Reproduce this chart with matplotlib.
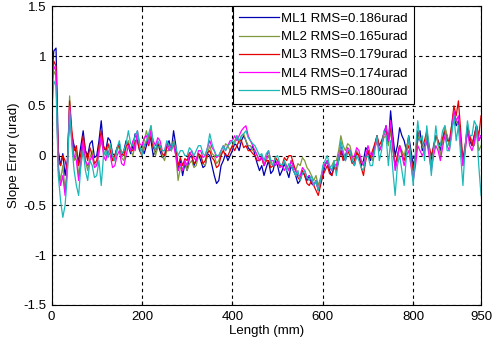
import numpy as np
import matplotlib
matplotlib.use("Agg")
import matplotlib.pyplot as plt

plt.rcParams['font.family'] = ['Liberation Sans', 'DejaVu Sans']
plt.rcParams['axes.unicode_minus'] = False

# sample positions along the mirror, mm (5 mm step)
length_mm = np.arange(0, 951, 5)

ml1 = [0.75, 1.05, 1.08, 0.05, -0.10, 0.02, -0.20, -0.05, 0.45, 0.20,
       0.10, 0.02, -0.05, 0.10, 0.25, 0.05, 0.00, 0.12, 0.15, -0.02,
       0.00, 0.15, 0.35, 0.08, 0.05, 0.18, 0.15, 0.02, 0.00, 0.08,
       0.12, 0.00, 0.05, 0.15, 0.10, 0.02, 0.10, 0.22, 0.15, 0.05,
       0.10, 0.02, 0.10, 0.20, 0.15, 0.00, 0.05, 0.12, 0.05, -0.02,
       0.00, 0.10, 0.15, 0.05, 0.25, 0.10, -0.15, -0.05, -0.20, -0.08,
       -0.15, -0.02, 0.00, -0.10, -0.05, 0.02, -0.05, -0.12, -0.10, 0.02,
       0.00, -0.10, -0.20, -0.28, -0.25, -0.10, -0.05, 0.02, -0.05, 0.00,
       0.05, 0.12, 0.10, 0.05, 0.15, 0.20, 0.15, 0.08, 0.05, 0.10,
       0.00, -0.08, -0.15, -0.10, -0.20, -0.12, -0.05, -0.18, -0.15, -0.05,
       -0.10, -0.20, -0.15, -0.08, -0.15, -0.22, -0.10, -0.15, -0.20, -0.28,
       -0.25, -0.15, -0.20, -0.25, -0.20, -0.28, -0.30, -0.25, -0.35, -0.28,
       -0.20, -0.10, -0.05, -0.15, -0.20, -0.10, -0.15, -0.05, 0.05, 0.00,
       -0.05, 0.05, 0.05, -0.05, -0.10, 0.02, 0.00, -0.10, -0.05, 0.08,
       0.05, -0.05, 0.00, 0.10, 0.20, 0.05, 0.10, 0.22, 0.30, 0.12,
       0.45, 0.20, 0.00, 0.10, 0.28, 0.20, 0.15, 0.05, 0.20, 0.05,
       -0.10, 0.00, 0.15, 0.25, 0.05, 0.10, 0.20, 0.05, -0.05, 0.10,
       0.20, 0.15, 0.05, 0.15, 0.25, 0.20, 0.10, 0.25, 0.40, 0.30,
       0.35, 0.15, -0.05, 0.10, 0.25, 0.15, 0.10, 0.20, 0.30, 0.15,
       0.20]
ml2 = [0.60, 0.85, 0.80, -0.10, -0.25, -0.10, -0.35, -0.15, 0.60, 0.15,
       -0.05, 0.05, -0.20, -0.05, 0.10, -0.05, -0.15, -0.02, 0.05, -0.08,
       -0.10, 0.02, 0.15, 0.05, 0.00, 0.08, 0.10, -0.05, -0.05, 0.05,
       0.10, -0.02, -0.05, 0.08, 0.15, 0.05, 0.00, 0.12, 0.20, 0.08,
       0.05, 0.15, 0.25, 0.15, 0.30, 0.10, 0.00, 0.08, 0.10, 0.00,
       -0.05, 0.05, 0.05, 0.10, 0.15, 0.00, -0.25, -0.12, -0.15, -0.05,
       -0.15, -0.08, -0.05, -0.12, -0.10, 0.00, 0.00, -0.08, -0.10, 0.02,
       0.10, 0.02, 0.00, -0.08, -0.05, 0.02, 0.05, 0.12, 0.10, 0.05,
       0.10, 0.15, 0.20, 0.12, 0.20, 0.22, 0.15, 0.10, 0.10, 0.05,
       0.05, 0.00, -0.05, -0.02, -0.10, -0.05, 0.00, -0.08, -0.10, -0.02,
       -0.05, -0.12, -0.10, -0.05, -0.10, -0.15, -0.05, -0.10, -0.15, -0.08,
       -0.10, -0.02, -0.05, -0.12, -0.15, -0.20, -0.25, -0.20, -0.30, -0.22,
       -0.15, -0.08, -0.05, -0.12, -0.10, -0.05, -0.05, 0.05, 0.20, 0.10,
       0.05, 0.12, 0.10, 0.00, -0.05, 0.05, 0.00, -0.05, -0.10, 0.00,
       0.05, 0.00, -0.05, 0.08, 0.15, 0.05, 0.10, 0.18, 0.20, 0.10,
       0.25, 0.05, -0.10, 0.00, 0.10, 0.05, 0.00, 0.10, 0.15, 0.00,
       -0.20, -0.05, 0.20, 0.15, 0.10, 0.05, 0.20, 0.10, -0.10, 0.05,
       0.20, 0.12, 0.00, 0.15, 0.30, 0.20, 0.10, 0.30, 0.45, 0.35,
       0.30, 0.10, -0.10, 0.05, 0.30, 0.20, 0.15, 0.10, 0.25, 0.05,
       0.10]
ml3 = [0.70, 0.95, 0.90, -0.05, -0.10, 0.00, -0.05, -0.15, 0.55, 0.25,
       0.05, 0.10, -0.10, 0.02, 0.20, 0.05, -0.05, 0.08, 0.00, -0.08,
       -0.05, 0.10, 0.25, 0.10, 0.05, 0.12, 0.05, -0.05, 0.00, 0.08,
       0.10, 0.02, 0.00, 0.10, 0.12, 0.05, 0.05, 0.15, 0.15, 0.05,
       0.00, 0.08, 0.15, 0.10, 0.20, 0.08, 0.05, 0.12, 0.10, 0.02,
       0.00, 0.08, 0.10, 0.05, 0.15, 0.05, -0.10, -0.02, -0.10, -0.03,
       -0.05, 0.03, 0.00, -0.08, -0.05, 0.02, 0.00, -0.08, -0.05, 0.03,
       0.05, -0.02, -0.05, -0.12, -0.10, 0.00, 0.05, 0.00, 0.00, 0.05,
       0.10, 0.05, 0.10, 0.15, 0.15, 0.08, 0.10, 0.05, 0.05, 0.02,
       0.00, -0.05, -0.05, -0.02, -0.10, -0.05, -0.05, -0.12, -0.10, -0.02,
       -0.05, -0.10, -0.10, -0.02, -0.05, 0.00, 0.00, -0.08, -0.15, -0.22,
       -0.25, -0.15, -0.20, -0.28, -0.30, -0.25, -0.30, -0.35, -0.40, -0.30,
       -0.20, -0.15, -0.10, -0.18, -0.20, -0.12, -0.15, -0.05, 0.05, -0.05,
       0.00, 0.05, 0.00, -0.08, -0.05, 0.03, 0.00, -0.12, -0.20, -0.05,
       0.05, -0.02, 0.05, 0.12, 0.20, 0.10, 0.15, 0.22, 0.25, 0.15,
       0.30, 0.10, -0.10, 0.00, 0.10, 0.02, -0.05, 0.05, 0.10, -0.02,
       -0.15, 0.00, 0.25, 0.18, 0.10, 0.15, 0.25, 0.10, 0.00, 0.08,
       0.20, 0.15, 0.10, 0.18, 0.25, 0.15, 0.15, 0.30, 0.50, 0.40,
       0.55, 0.25, -0.05, 0.10, 0.30, 0.20, 0.10, 0.20, 0.30, 0.20,
       0.40]
ml4 = [0.65, 0.90, 0.85, -0.15, -0.30, -0.20, -0.40, -0.10, 0.50, 0.15,
       0.00, -0.05, -0.25, -0.08, 0.15, -0.05, -0.10, -0.05, 0.00, -0.12,
       -0.10, 0.05, 0.20, 0.00, -0.05, 0.05, 0.00, -0.12, -0.10, 0.00,
       0.05, -0.08, -0.10, 0.00, 0.10, 0.05, 0.15, 0.05, 0.25, 0.12,
       0.10, 0.18, 0.20, 0.12, 0.25, 0.15, 0.10, 0.18, 0.15, 0.05,
       0.05, 0.12, 0.05, 0.10, 0.10, 0.00, -0.15, -0.08, -0.15, -0.05,
       -0.10, 0.00, 0.05, -0.02, -0.05, 0.05, 0.05, -0.02, 0.00, 0.08,
       0.15, 0.08, 0.05, -0.02, 0.00, 0.05, 0.10, 0.05, 0.10, 0.15,
       0.15, 0.20, 0.15, 0.20, 0.25, 0.28, 0.30, 0.20, 0.15, 0.10,
       0.05, 0.00, -0.05, 0.00, -0.10, -0.02, 0.05, -0.05, -0.05, -0.10,
       -0.05, -0.12, -0.10, -0.15, -0.10, -0.15, -0.05, -0.12, -0.15, -0.20,
       -0.20, -0.12, -0.15, -0.22, -0.20, -0.25, -0.30, -0.25, -0.35, -0.25,
       -0.15, -0.08, -0.05, -0.12, -0.15, -0.08, -0.10, 0.00, 0.10, 0.02,
       0.00, 0.08, 0.05, -0.02, 0.00, 0.08, 0.05, -0.05, -0.10, 0.00,
       0.10, 0.02, 0.00, 0.08, 0.15, 0.05, 0.10, 0.20, 0.30, 0.15,
       0.35, 0.10, -0.15, -0.05, 0.10, 0.00, -0.10, 0.00, 0.05, -0.10,
       -0.25, -0.10, 0.10, 0.05, 0.00, 0.05, 0.15, 0.00, -0.15, 0.00,
       0.10, 0.05, -0.05, 0.08, 0.20, 0.10, 0.05, 0.25, 0.45, 0.35,
       0.40, 0.15, -0.10, 0.05, 0.25, 0.10, 0.05, 0.12, 0.30, 0.15,
       0.20]
ml5 = [0.38, 0.75, 0.70, -0.20, -0.45, -0.62, -0.50, -0.20, 0.45, 0.10,
       -0.15, -0.30, -0.40, -0.10, 0.05, -0.15, -0.25, -0.05, -0.10, -0.22,
       -0.20, -0.05, -0.30, 0.00, 0.05, -0.02, 0.12, 0.00, -0.05, 0.08,
       0.15, 0.02, 0.05, 0.12, 0.25, 0.12, 0.10, 0.20, 0.25, 0.10,
       0.00, 0.10, 0.15, 0.22, 0.30, 0.12, 0.05, 0.15, 0.10, 0.05,
       0.05, 0.15, 0.10, 0.05, 0.15, 0.08, 0.00, 0.05, 0.05, 0.00,
       0.00, 0.08, 0.05, 0.00, 0.05, 0.10, 0.10, 0.02, 0.00, 0.08,
       0.22, 0.12, 0.05, 0.00, 0.00, 0.05, 0.10, 0.05, 0.10, 0.12,
       0.15, 0.12, 0.20, 0.15, 0.20, 0.22, 0.25, 0.18, 0.15, 0.12,
       0.10, 0.05, 0.00, 0.02, -0.05, 0.02, 0.05, -0.05, -0.10, -0.02,
       0.00, -0.08, -0.10, -0.05, -0.15, -0.08, -0.10, -0.15, -0.20, -0.15,
       -0.25, -0.18, -0.15, -0.22, -0.25, -0.20, -0.30, -0.25, -0.35, -0.25,
       -0.10, -0.05, 0.00, -0.10, -0.15, -0.05, -0.20, -0.05, 0.15, 0.05,
       -0.05, 0.05, 0.05, -0.05, -0.10, 0.00, -0.05, -0.12, -0.15, -0.02,
       0.00, -0.10, -0.10, 0.05, 0.20, -0.05, 0.05, 0.25, 0.20, -0.10,
       0.15, -0.15, -0.40, -0.10, 0.00, -0.15, -0.30, 0.00, 0.20, -0.05,
       -0.30, 0.05, 0.35, 0.15, 0.20, -0.05, 0.30, 0.10, -0.20, 0.05,
       0.30, 0.10, 0.10, 0.25, 0.30, 0.05, 0.05, 0.20, 0.40, 0.15,
       0.30, 0.00, -0.30, 0.10, 0.35, 0.20, 0.20, 0.35, 0.30, -0.10,
       -0.40]

labels = ["ML1 RMS=0.186urad", "ML2 RMS=0.165urad", "ML3 RMS=0.179urad",
          "ML4 RMS=0.174urad", "ML5 RMS=0.180urad"]
colors = ["#0000b4", "#7f9a3c", "#e60000", "#ff00ff", "#1cb8b8"]

fig = plt.figure(figsize=(4.92, 3.41), dpi=100)
ax = fig.add_axes([0.1047, 0.1056, 0.873, 0.876])

for ys, lab, col in zip([ml1, ml2, ml3, ml4, ml5], labels, colors):
    ax.plot(length_mm, ys, color=col, linewidth=0.9, label=lab)

ax.set_xlim(0, 950)
ax.set_ylim(-1.5, 1.5)
ax.set_xticks([0, 200, 400, 600, 800, 950])
ax.set_yticks([-1.5, -1, -0.5, 0, 0.5, 1, 1.5])
ax.set_yticklabels(["-1.5", "-1", "-0.5", "0", "0.5", "1", "1.5"])
ax.grid(True, color="black", linestyle=(0, (3, 3)), linewidth=0.8)
ax.tick_params(direction="in", length=3, top=True, right=True, labelsize=9.5, pad=4)
for sp in ax.spines.values():
    sp.set_linewidth(0.8)

ax.set_xlabel("Length (mm)", fontsize=9.5, labelpad=2)
ax.set_ylabel("Slope Error (urad)", fontsize=9.5, labelpad=2)

leg = ax.legend(loc="upper right", bbox_to_anchor=(0.844, 1.0), fontsize=9.5,
                handlelength=3.0, handletextpad=0.15, labelspacing=0.45,
                borderpad=0.5, borderaxespad=0.0, fancybox=False,
                framealpha=1.0, edgecolor="black")
leg.get_frame().set_linewidth(0.8)

fig.savefig("out.png", dpi=100)
